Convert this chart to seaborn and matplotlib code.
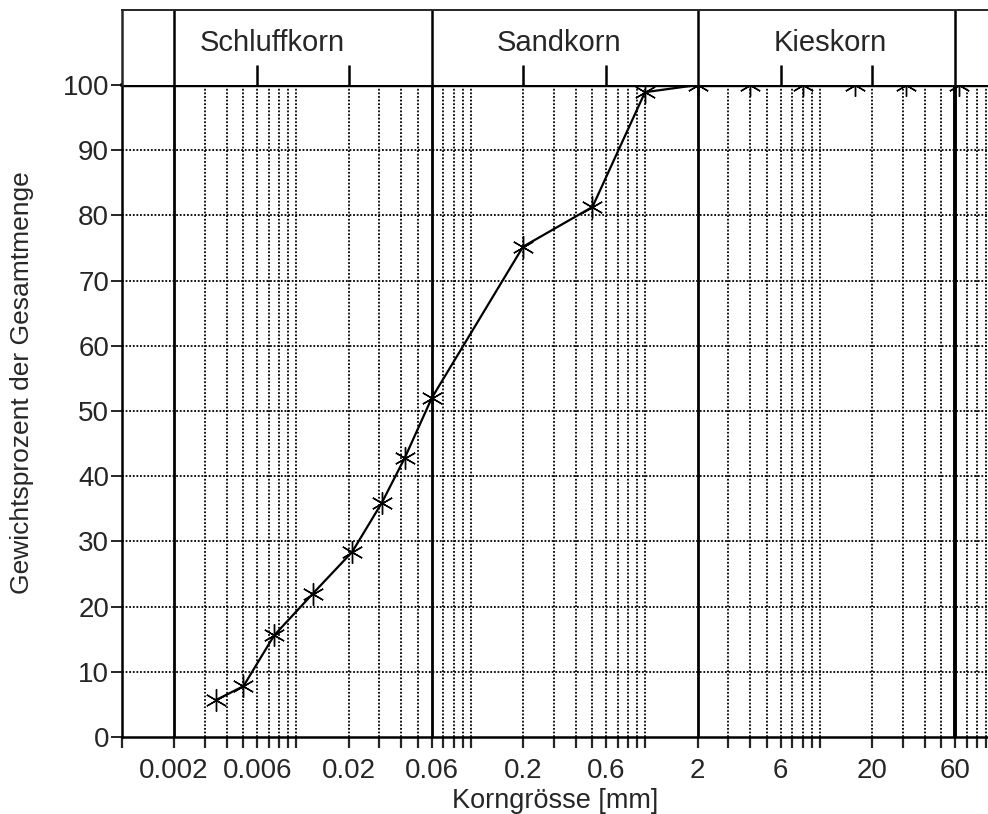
import numpy as np
import pandas as pd
import matplotlib
matplotlib.use("Agg")
import matplotlib.pyplot as plt
from matplotlib.ticker import NullLocator, FixedLocator
import seaborn as sns

# ---------------- data ----------------
grain_mm = [0.0035, 0.005, 0.0075, 0.0125, 0.021, 0.031, 0.042, 0.06,
            0.2, 0.5, 1.0, 2.0, 4.0, 8.0, 16.0, 31.5, 63.0]
passing_pct = [5.7, 7.8, 15.6, 22.0, 28.4, 35.9, 42.8, 52.0,
               75.2, 81.3, 98.9, 100, 100, 100, 100, 100, 100]

labeled_ticks = [0.002, 0.006, 0.02, 0.06, 0.2, 0.6, 2, 6, 20, 60]
tick_labels = ["0.002", "0.006", "0.02", "0.06", "0.2", "0.6", "2", "6", "20", "60"]
boundaries = [0.002, 0.06, 2, 60]
fractions = ["Schluffkorn", "Sandkorn", "Kieskorn"]
fraction_label_x = [0.0073, 0.32, 11.5]
band_ticks = [0.006, 0.02, 0.2, 0.6, 6, 20]
y_ticks = [0, 10, 20, 30, 40, 50, 60, 70, 80, 90, 100]
mantissas = [2, 3, 4, 5, 6, 7, 8, 9, 10]
decades = [0.001, 0.01, 0.1, 1, 10]

df = pd.DataFrame({"Korngrösse": grain_mm, "Prozent": passing_pct})

# ---------------- style ----------------
sns.set_style("white")
plt.rcParams['font.family'] = ['Liberation Sans', 'DejaVu Sans']

W, H = 988, 814
fig = plt.figure(figsize=(W / 100, H / 100), dpi=100)

x_left_px, x_right_px = 121.5, 994
y0_px, y100_px, ytop_px = 737, 85, 10
left = x_left_px / W
width = (x_right_px - x_left_px) / W
ax = fig.add_axes([left, (H - y0_px) / H, width, (y0_px - y100_px) / H])
band = fig.add_axes([left, (H - y100_px) / H, width, (y100_px - ytop_px) / H])

xmin, xmax = 0.001, 100

grid_x = [m * d for d in decades for m in mantissas]
all_ticks = [0.001] + grid_x

# ---------------- main axes ----------------
ax.set_xscale("log")
ax.set_xlim(xmin, xmax)
ax.set_ylim(0, 100)

for gx in grid_x:
    if any(abs(gx - b) / b < 1e-6 for b in boundaries):
        continue
    ax.axvline(gx, color="black", lw=1.3, ls=(0, (1, 1)), zorder=1)
for gy in y_ticks[1:-1]:
    ax.axhline(gy, color="black", lw=1.3, ls=(0, (1, 1)), zorder=1)
for b in boundaries:
    ax.axvline(b, color="black", lw=2.0 if b != 60 else 2.8, zorder=2)
ax.axhline(100, color="black", lw=3.2, zorder=4, clip_on=False)

sns.lineplot(data=df, x="Korngrösse", y="Prozent", ax=ax, color="black",
             lw=1.6, marker=(6, 2, 0), markersize=16, markeredgewidth=1.0,
             markeredgecolor="black", estimator=None, sort=False, zorder=3)

ax.xaxis.set_major_locator(FixedLocator(all_ticks))
ax.xaxis.set_minor_locator(NullLocator())
lab_map = {round(t, 6): s for t, s in zip(labeled_ticks, tick_labels)}
ax.set_xticklabels([lab_map.get(round(t, 6), "") for t in all_ticks])
ax.set_yticks(y_ticks)
ax.set_yticklabels([str(v) for v in y_ticks])
ax.tick_params(axis="x", direction="out", length=8, width=1.6, pad=7,
               labelsize=20, bottom=True)
ax.tick_params(axis="y", direction="out", length=8, width=1.4, pad=1,
               labelsize=20, left=True)
ax.set_xlabel("")
ax.set_ylabel("")
for s in ["top", "right"]:
    ax.spines[s].set_visible(False)
for s in ["left", "bottom"]:
    ax.spines[s].set_linewidth(1.8)
    ax.spines[s].set_color("black")

# ---------------- top band ----------------
band.set_xscale("log")
band.set_xlim(xmin, xmax)
band.set_ylim(0, 1)
band.set_xticks([])
band.set_yticks([])
band.xaxis.set_minor_locator(NullLocator())
band.spines["bottom"].set_visible(False)
band.spines["right"].set_visible(False)
band.spines["top"].set_linewidth(1.4)
band.spines["left"].set_linewidth(1.8)
for b in boundaries:
    band.axvline(b, color="black", lw=1.8)
band.vlines(band_ticks, 0, 0.27, color="black", lw=1.8)
for name, lx in zip(fractions, fraction_label_x):
    band.text(lx, 0.56, name, ha="center", va="center", fontsize=21)

# ---------------- axis titles ----------------
fig.text(555 / W, (H - 801) / H, "Korngrösse [mm]", ha="center", va="center",
         fontsize=19.5)
fig.text(22 / W, (H - 383) / H, "Gewichtsprozent der Gesamtmenge", ha="center",
         va="center", rotation=90, fontsize=19)

fig.savefig("out.png", dpi=100)
